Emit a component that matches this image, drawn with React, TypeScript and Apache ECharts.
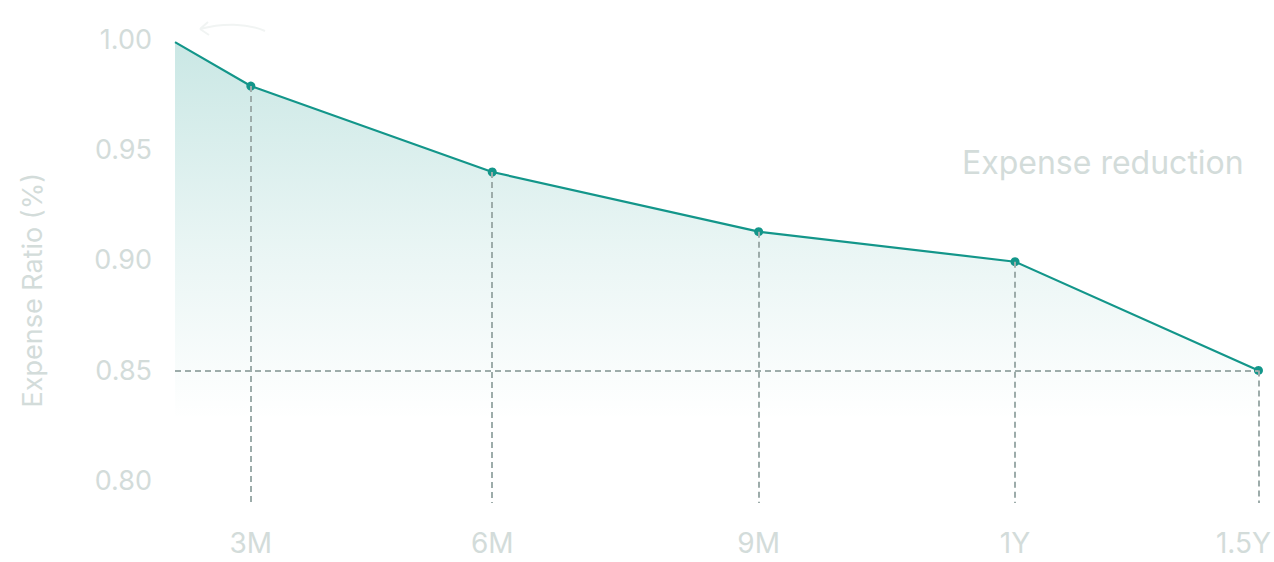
import React, { useEffect, useRef } from "react";
import * as echarts from "echarts";

const xLabels = ["", "3M", "6M", "9M", "1Y", "1.5Y"];
const xPositions = [0, 7.0, 29.28, 53.87, 77.53, 100];
const ratios = [0.9986, 0.9787, 0.9398, 0.9128, 0.8992, 0.85];
const yTicks = [0.8, 0.85, 0.9, 0.95, 1.0];
const targetRatio = 0.85;
const yMin = 0.79;
const yMax = 1.0;

const TEAL = "#13968a";
const LABEL = "#d3dcda";
const DASH = "#9dacaa";

echarts.graphic.registerShape(
  "curvedArrow",
  echarts.graphic.extendPath("M 68 9 C 50 1 25 1 3 7 M 3 7 L 11 0 M 3 7 L 12 13", {})
);

export default function App() {
  const ref = useRef<HTMLDivElement>(null);
  useEffect(() => {
    if (!ref.current) return;
    const chart = echarts.init(ref.current, null, { renderer: "svg" });
    const pts = xPositions.map((x, i) => [x, ratios[i]]);
    const last = pts[pts.length - 1];
    const vLines = pts.slice(1).map((p) => [
      { coord: [p[0], p[1]] },
      { coord: [p[0], yMin] },
    ]);
    const hLine = [{ coord: [0, targetRatio] }, { coord: [last[0], targetRatio] }];
    chart.setOption({
      animation: false,
      textStyle: { fontFamily: "Inter" },
      grid: { left: 175, right: 10, top: 39, bottom: 59, containLabel: false },
      xAxis: {
        type: "value",
        min: 0,
        max: 100,
        splitLine: { show: false },
        axisLine: { show: false },
        axisTick: { show: false },
        axisLabel: {
          customValues: xPositions.slice(1),
          margin: 26,
          color: LABEL,
          fontSize: 28,
          fontFamily: "Inter",
          formatter: (v: number) => {
            const i = xPositions.findIndex((p) => Math.abs(p - v) < 1e-6);
            const t = i >= 0 ? xLabels[i] : "";
            return i === xPositions.length - 1 ? "{last|" + t + "}" : t;
          },
          rich: {
            last: { padding: [0, 30, 0, 0], color: LABEL, fontSize: 28, fontFamily: "Inter" },
          },
        },
      },
      yAxis: {
        type: "value",
        min: yMin,
        max: yMax,
        splitLine: { show: false },
        axisLine: { show: false },
        axisTick: { show: false },
        axisLabel: {
          customValues: yTicks,
          margin: 23,
          color: LABEL,
          fontSize: 27,
          fontFamily: "Inter",
          formatter: (v: number) => v.toFixed(2),
        },
      },
      graphic: [
        {
          type: "text",
          left: 19,
          top: 173,
          rotation: Math.PI / 2,
          style: {
            text: "Expense Ratio (%)",
            fill: LABEL,
            font: "27px Inter",
          },
        },
        {
          type: "text",
          x: 962,
          y: 146,
          style: { text: "Expense reduction", fill: LABEL, font: "32px Inter" },
        },
        {
          type: "curvedArrow",
          x: 197,
          y: 22,
          style: { stroke: "#f1f4f3", lineWidth: 2, fill: null },
        },
      ],
      series: [
        {
          type: "line",
          data: pts.map((p, i) => (i === 0 ? { value: p, symbolSize: 0 } : p)),
          symbol: "circle",
          symbolSize: 9,
          showSymbol: true,
          itemStyle: { color: TEAL },
          lineStyle: { color: TEAL, width: 2.2 },
          areaStyle: {
            color: new echarts.graphic.LinearGradient(0, 0, 0, 1, [
              { offset: 0, color: "rgba(19,150,138,0.32)" },
              { offset: 0.45, color: "rgba(19,150,138,0.13)" },
              { offset: 0.82, color: "rgba(19,150,138,0)" },
              { offset: 1, color: "rgba(19,150,138,0)" },
            ]),
          },
          markLine: {
            silent: true,
            symbol: ["none", "none"],
            label: { show: false },
            lineStyle: { color: DASH, type: [6, 4], width: 2 },
            data: [...vLines, hLine],
          },
          z: 3,
        },
      ],
    });
    return () => chart.dispose();
  }, []);
  return (
    <div
      ref={ref}
      style={{ position: "fixed", left: 0, top: 0, width: 1274, height: 562, background: "#fff" }}
    />
  );
}
